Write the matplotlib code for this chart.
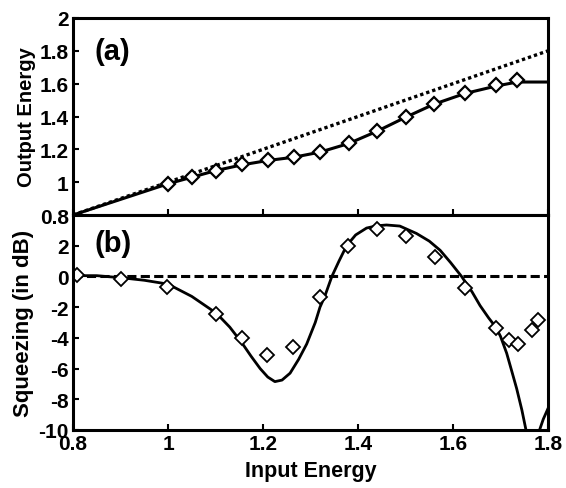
import numpy as np
import matplotlib
matplotlib.use("Agg")
import matplotlib.pyplot as plt

plt.rcParams['font.family'] = ['Liberation Sans', 'DejaVu Sans']
plt.rcParams['font.weight'] = 'bold'

# Panel (a): output energy vs input energy
a_line_x = [0.8, 0.9, 1.0, 1.05, 1.1, 1.155, 1.21, 1.265, 1.32, 1.38, 1.44, 1.5,
            1.56, 1.625, 1.69, 1.735, 1.8]
a_line_y = [0.8, 0.895, 0.99, 1.03, 1.07, 1.105, 1.132, 1.152, 1.183, 1.235, 1.31,
            1.395, 1.475, 1.54, 1.585, 1.61, 1.61]
a_pts_x = [1.0, 1.05, 1.1, 1.155, 1.21, 1.265, 1.32, 1.38, 1.44, 1.5, 1.56, 1.625,
           1.69, 1.735]
a_pts_y = [0.99, 1.032, 1.071, 1.108, 1.134, 1.153, 1.186, 1.237, 1.313, 1.399,
           1.477, 1.545, 1.59, 1.62]
a_ref_x = [0.8, 1.8]
a_ref_y = [0.8, 1.8]

# Panel (b): squeezing (dB) vs input energy
b_line_x = [0.80, 0.85, 0.906, 0.95, 1.00, 1.05, 1.102, 1.13, 1.155, 1.175, 1.194,
            1.21, 1.225, 1.24, 1.257, 1.275, 1.292, 1.31, 1.32, 1.33, 1.345, 1.36,
            1.376, 1.395, 1.418, 1.44, 1.46, 1.488, 1.523, 1.55, 1.573, 1.595,
            1.618, 1.64, 1.657, 1.675, 1.69, 1.70, 1.713, 1.724, 1.734, 1.745,
            1.755, 1.765, 1.772, 1.78, 1.79, 1.80]
b_line_y = [0.05, 0.05, -0.1, -0.25, -0.5, -1.3, -2.4, -3.3, -4.3, -5.2, -6.0,
            -6.55, -6.85, -6.75, -6.3, -5.4, -4.4, -3.0, -2.0, -1.3, 0.0, 1.0,
            2.0, 2.7, 3.15, 3.3, 3.35, 3.28, 2.8, 2.3, 1.7, 0.9,
            0.0, -1.0, -1.9, -2.7, -3.3, -3.9, -5.0, -6.2, -7.3, -8.7,
            -10.2, -11.2, -11.0, -10.2, -9.3, -8.6]
b_pts_x = [0.808, 0.901, 0.998, 1.10, 1.155, 1.208, 1.264, 1.321, 1.378, 1.439,
           1.50, 1.562, 1.625, 1.69, 1.718, 1.737, 1.767, 1.779]
b_pts_y = [0.1, -0.16, -0.67, -2.44, -4.0, -5.1, -4.6, -1.33, 1.96, 3.07, 2.62,
           1.27, -0.78, -3.33, -4.15, -4.4, -3.5, -2.82]

x_ticks = [0.8, 1.0, 1.2, 1.4, 1.6, 1.8]
x_ticklabels = ['0.8', '1', '1.2', '1.4', '1.6', '1.8']
a_yticks = [0.8, 1.0, 1.2, 1.4, 1.6, 1.8, 2.0]
a_yticklabels = ['0.8', '1', '1.2', '1.4', '1.6', '1.8', '2']
b_yticks = [-10, -8, -6, -4, -2, 0, 2]
b_yticklabels = ['-10', '-8', '-6', '-4', '-2', '0', '2']

fig = plt.figure(figsize=(5.66, 4.89), dpi=100)
L, R = 73 / 566, 548 / 566
top_a, mid, bot_b = 1 - 19 / 489, 1 - 216 / 489, 1 - 431 / 489
ax1 = fig.add_axes([L, mid, R - L, top_a - mid])
ax2 = fig.add_axes([L, bot_b, R - L, mid - bot_b])

lw_sp = 2.2
for ax in (ax1, ax2):
    for s in ax.spines.values():
        s.set_linewidth(lw_sp)
    ax.tick_params(direction='in', length=4, width=1.5, labelsize=15, pad=3)
    ax.set_xlim(0.8, 1.8)
    ax.set_xticks(x_ticks)

ax1.plot(a_ref_x, a_ref_y, color='black', linestyle=(0, (1, 0.9)), linewidth=2.4)
ax1.plot(a_line_x, a_line_y, color='black', linewidth=2.2)
ax1.plot(a_pts_x, a_pts_y, linestyle='none', marker='D', markersize=7.5,
         markerfacecolor='white', markeredgecolor='black', markeredgewidth=1.6)
ax1.set_ylim(0.8, 2.0)
ax1.set_yticks(a_yticks)
ax1.set_yticklabels(a_yticklabels)
ax1.set_xticklabels([])
ax1.set_ylabel('Output Energy', fontsize=14.5, fontweight='bold', labelpad=3)
ax1.text(0.845, 1.80, '(a)', fontsize=21, fontweight='bold', va='center', ha='left')

ax2.axhline(0, color='black', linestyle=(0, (3, 1.4)), linewidth=2.2)
ax2.plot(b_line_x, b_line_y, color='black', linewidth=2.0)
ax2.plot(b_pts_x, b_pts_y, linestyle='none', marker='D', markersize=7.5,
         markerfacecolor='white', markeredgecolor='black', markeredgewidth=1.3)
ax2.set_ylim(-10, 4)
ax2.set_yticks(b_yticks)
ax2.set_yticklabels(b_yticklabels)
ax2.set_xticklabels(x_ticklabels)
ax2.set_ylabel('Squeezing (in dB)', fontsize=16, fontweight='bold', labelpad=3)
ax2.set_xlabel('Input Energy', fontsize=15.5, fontweight='bold', labelpad=5)
ax2.text(0.845, 2.2, '(b)', fontsize=21, fontweight='bold', va='center', ha='left')

fig.savefig('out.png', dpi=100)
